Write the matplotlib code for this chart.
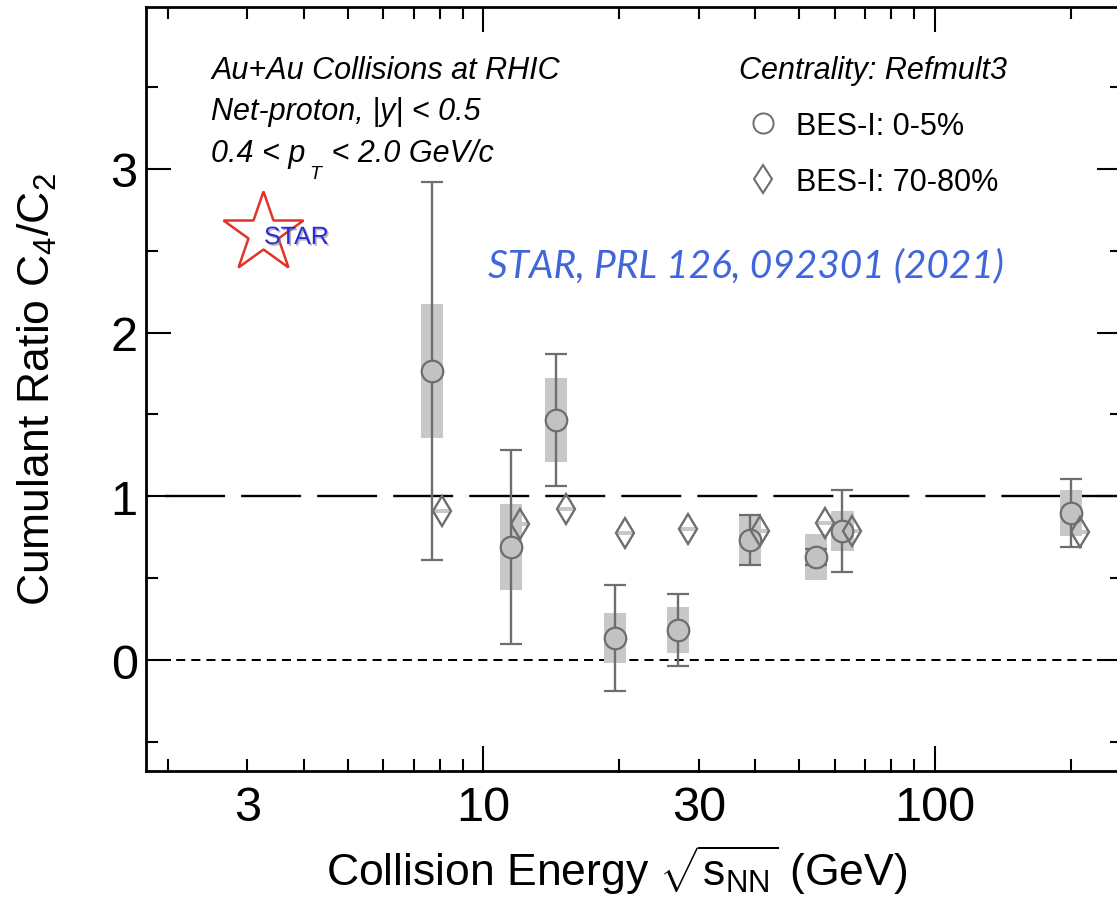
import matplotlib
matplotlib.use("Agg")
import matplotlib.pyplot as plt
import matplotlib.patheffects as pe
from matplotlib.patches import Rectangle
from matplotlib.lines import Line2D
from matplotlib.ticker import FixedLocator, FuncFormatter

plt.rcParams['font.family'] = ['Liberation Sans', 'DejaVu Sans']
plt.rcParams['mathtext.fontset'] = 'custom'
plt.rcParams['mathtext.rm'] = 'Liberation Sans'
plt.rcParams['mathtext.it'] = 'Liberation Sans:italic'
plt.rcParams['mathtext.bf'] = 'Liberation Sans:bold'
plt.rcParams['mathtext.sf'] = 'Liberation Sans'

# Collision energies (GeV)
energy = [7.7, 11.5, 14.5, 19.6, 27.0, 39.0, 54.4, 62.4, 200.0]
# C4/C2, 0-5% central
c42_central = [1.765, 0.692, 1.466, 0.137, 0.186, 0.735, 0.631, 0.790, 0.900]
c42_central_stat = [1.15, 0.59, 0.40, 0.325, 0.22, 0.15, 0.05, 0.25, 0.205]
c42_central_sys = [0.41, 0.265, 0.255, 0.15, 0.14, 0.145, 0.14, 0.12, 0.14]
# C4/C2, 70-80% peripheral
c42_periph = [0.912, 0.832, 0.924, 0.777, 0.802, 0.790, 0.838, 0.790, 0.784]
c42_periph_sys = [0.012, 0.012, 0.012, 0.012, 0.012, 0.012, 0.012, 0.012, 0.012]

labeled_ticks = [3, 10, 30, 100]
major_ticks = [10, 100]
minor_ticks = [2, 3, 4, 5, 6, 7, 8, 9, 20, 30, 40, 50, 60, 70, 80, 90, 200]
y_major = [0, 1, 2, 3]
y_minor = [-0.5, 0.5, 1.5, 2.5, 3.5]

W, H = 1117, 904
fig = plt.figure(figsize=(W / 100, H / 100), dpi=100)
ax = fig.add_axes([146 / W, 1 - 772 / H, (1122 - 146) / W, (772 - 8) / H])
ax.set_xscale('log')
ax.set_xlim(1.789, 259.6)
ax.set_ylim(-0.674, 3.985)

gray_edge = '#6e6e6e'
box_gray = '#c8c8c8'

# reference lines
ax.axhline(1, color='black', lw=1.7, ls=(24.1, (25.4, 6.8)), zorder=1)
ax.axhline(0, color='black', lw=1.45, ls=(0, (4.5, 3.0)), zorder=1)

# systematic boxes, central
bw = 1.058
for e, v, s in zip(energy, c42_central, c42_central_sys):
    ax.add_patch(Rectangle((e / bw, v - s), e * bw - e / bw, 2 * s,
                           fc=box_gray, ec='none', zorder=2))

ax.errorbar(energy, c42_central, yerr=c42_central_stat, fmt='o', ms=15.5,
            mfc='#c2c2c2', mec=gray_edge, mew=1.6, ecolor=gray_edge,
            elinewidth=1.7, capsize=7.9, capthick=1.7, zorder=4)

# peripheral points, shifted slightly in energy for visibility
shift = 1.05
pw = 1.04
e_shift = [e * shift for e in energy]
for e, v, s in zip(e_shift, c42_periph, c42_periph_sys):
    ax.add_patch(Rectangle((e / pw, v - s), e * pw - e / pw, 2 * s,
                           fc=box_gray, ec='none', zorder=2))
ax.plot(e_shift, c42_periph, ls='none', marker='d', ms=15, mfc='none',
        mec=gray_edge, mew=1.7, zorder=5)

# axes styling
for sp in ax.spines.values():
    sp.set_linewidth(2.0)
ax.xaxis.set_major_locator(FixedLocator(major_ticks))
ax.xaxis.set_minor_locator(FixedLocator(minor_ticks))
fmt = FuncFormatter(lambda v, p: f"{v:g}" if round(v) in labeled_ticks else "")
ax.xaxis.set_major_formatter(fmt)
ax.xaxis.set_minor_formatter(fmt)
ax.yaxis.set_major_locator(FixedLocator(y_major))
ax.yaxis.set_minor_locator(FixedLocator(y_minor))
ax.yaxis.set_major_formatter(FuncFormatter(lambda v, p: f"{v:g}"))
ax.tick_params(which='both', direction='in', top=True, right=True,
               width=1.5, labelsize=35)
ax.tick_params(which='major', length=18)
ax.tick_params(which='minor', length=8.6)
ax.tick_params(axis='x', which='both', pad=10)
ax.tick_params(axis='y', which='both', pad=6)

ax.set_xlabel(r'Collision Energy $\sqrt{\mathrm{s}_{\mathrm{NN}}}$ (GeV)', fontsize=32)
ax.xaxis.set_label_coords(0.4826, -0.093)
ax.set_ylabel(r'Cumulant Ratio C$_4$/C$_2$', fontsize=32)
ax.yaxis.set_label_coords(-0.089, 0.5)

# annotation block
ax.text(0.0666, 0.907, 'Au+Au Collisions at RHIC', fontsize=22, style='italic',
        transform=ax.transAxes, va='baseline')
ax.text(0.0666, 0.8534, 'Net-proton, |y| < 0.5', fontsize=22, style='italic',
        transform=ax.transAxes, va='baseline')
t1 = ax.text(0.0666, 0.7984, '0.4 < p', fontsize=22, style='italic',
             transform=ax.transAxes, va='baseline')
t2 = ax.annotate('T', xy=(1, 0), xycoords=t1, xytext=(3, 2.5),
                 textcoords='offset points', fontsize=14, style='italic',
                 va='top', ha='left')
ax.annotate(' < 2.0 GeV/c', xy=(1, 0), xycoords=(t2, t1), xytext=(1, 0),
            textcoords='offset points', fontsize=22, style='italic',
            va='bottom', ha='left')

# STAR logo
ax.plot([0.1199], [0.7042], transform=ax.transAxes, marker='*', ms=61,
        mfc='none', mec='#e0342a', mew=1.8, clip_on=False, zorder=6)
ax.text(0.1209, 0.6898, 'STAR', fontsize=18, color='#2a2ad6',
        transform=ax.transAxes, va='baseline', ha='left', zorder=7,
        path_effects=[pe.SimplePatchShadow(offset=(1.2, -1.2),
                                           shadow_rgbFace='#888888', alpha=0.6),
                      pe.Normal()])

ax.text(0.3504, 0.6479, 'STAR, PRL 126, 092301 (2021)', fontsize=28,
        family=['Lato', 'DejaVu Sans'], style='italic', color='#4066dc',
        transform=ax.transAxes, va='baseline', ha='left')

# legend
h1 = Line2D([], [], ls='none', marker='o', ms=14.5, mfc='white', mec=gray_edge, mew=1.4)
h2 = Line2D([], [], ls='none', marker='d', ms=14.5, mfc='white', mec=gray_edge, mew=1.5)
ax.legend([h1, h2], ['BES-I: 0-5%', 'BES-I: 70-80%'], title='Centrality: Refmult3',
          loc='upper left', bbox_to_anchor=(0.6076, 0.9372), frameon=False,
          fontsize=22, title_fontproperties={'style': 'italic', 'size': 22},
          handlelength=1.0, handletextpad=0.58, labelspacing=0.85,
          borderpad=0, borderaxespad=0)

fig.savefig('out.png', dpi=100)
